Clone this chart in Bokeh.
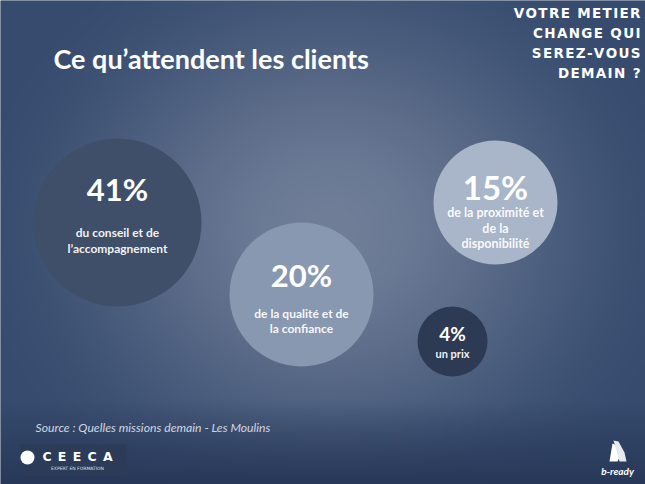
import numpy as np
from bokeh.plotting import figure
from bokeh.models import Range1d
from bokeh.core.properties import value
from bokeh.embed import file_html
from bokeh.resources import INLINE

# ---- data ----
title = "Ce qu’attendent les clients"
tagline = ["VOTRE METIER", "CHANGE QUI", "SEREZ-VOUS", "DEMAIN ?"]
values = [41, 20, 15, 4]
descriptions = [
    ["du conseil et de", "l’accompagnement"],
    ["de la qualité et de", "la confiance"],
    ["de la proximité et", "de la", "disponibilité"],
    ["un prix"],
]
source = "Source : Quelles missions demain - Les Moulins"

# ---- layout (screen pixels, y downwards) ----
W, H = 645, 484
cx = [117, 301, 495, 452]
cy = [222, 294, 202, 341]
rad = [84, 72, 62, 35]
fills = ["#3f4f69", "#8898b1", "#a9b5c9", "#2c3a53"]
pct_y = [188, 274, 186, 333]
pct_size = ["31px", "31px", "33px", "19px"]
desc_y0 = [232, 313, 212, 353]
desc_dy = [16, 15, 15.5, 0]
desc_size = ["12px", "12px", "12.5px", "11px"]

p = figure(width=W, height=H, x_range=Range1d(0, W), y_range=Range1d(H, 0),
           output_backend="svg", toolbar_location=None, min_border=0)
p.axis.visible = False
p.grid.visible = False
p.outline_line_color = None
p.background_fill_color = "#3c5072"
p.border_fill_color = "#3c5072"

# ---- background gradient ----
gw, gh = 323, 242
xs = (np.arange(gw) + 0.5) * W / gw
ys = (np.arange(gh) + 0.5) * H / gh
X, Y = np.meshgrid(xs, ys)
t = np.sqrt(((X - 330) / 380) ** 2 + ((Y - 230) / 330) ** 2)
t = np.clip(t, 0, 1)
t = t * t * (3 - 2 * t)
c0 = np.array([112, 126, 152])
c1 = np.array([54, 75, 110])
img = c0[None, None, :] * (1 - t[..., None]) + c1[None, None, :] * t[..., None]
bot = np.clip((Y - 400) / 85, 0, 1)[..., None]
img = img * (1 - bot) + np.array([40, 56, 88])[None, None, :] * bot
img = img.astype(np.uint32)
rgba = (255 << 24) | (img[..., 2] << 16) | (img[..., 1] << 8) | img[..., 0]
rgba = rgba.astype(np.uint32)
p.image_rgba(image=[rgba], x=0, y=0, dw=W, dh=H)

# ---- circles ----
p.circle(x=cx, y=cy, radius=rad, fill_color=fills, line_color=None)

# ---- text ----
font = value("Lato")
p.text(x=[53], y=[58], text=[title], text_color="white", text_font=font,
       text_font_size="27px", text_font_style="bold", text_baseline="middle")

hs = "\u200a"
p.text(x=[640] * 4, y=[12, 32, 52, 72], text=[hs.join(s) for s in tagline],
       text_color="white", text_font=value("DejaVu Sans"),
       text_font_size="13.5px", text_font_style="bold", text_align="right",
       text_baseline="middle")

for i, v in enumerate(values):
    p.text(x=[cx[i]], y=[pct_y[i]], text=[f"{v}%"], text_color="white",
           text_font=font, text_font_size=pct_size[i], text_font_style="bold",
           text_align="center", text_baseline="middle")
    lines = descriptions[i]
    p.text(x=[cx[i]] * len(lines),
           y=[desc_y0[i] + k * desc_dy[i] for k in range(len(lines))],
           text=lines, text_color="white", text_alpha=0.95, text_font=font,
           text_font_size=desc_size[i], text_font_style="bold",
           text_align="center", text_baseline="middle")

p.text(x=[35], y=[427], text=[source], text_color="#d0d7e2", text_font=font,
       text_font_size="12.2px", text_font_style="italic", text_baseline="middle")

# ---- CEECA logo ----
p.quad(left=[20], right=[126], top=[444], bottom=[476], fill_color="#2b3b58",
       line_color=None)
p.circle(x=[27], y=[457], radius=7, fill_color="white", line_color=None)
p.text(x=[77], y=[456], text=["\u2002".join("CEECA")], text_color="white",
       text_font=value("DejaVu Sans"), text_font_size="12.5px",
       text_font_style="bold", text_align="center", text_baseline="middle")
p.text(x=[77], y=[468], text=["EXPERT EN FORMATION"], text_color="#dfe4ec",
       text_font=value("DejaVu Sans"), text_font_size="4.5px",
       text_align="center", text_baseline="middle")

# ---- b-ready logo ----
p.patch(x=[609, 612, 616, 620, 617, 609], y=[461, 443, 445, 455, 461, 461],
        fill_color="white", line_color=None)
p.patch(x=[613, 618, 624, 626, 619], y=[440, 441, 452, 461, 461],
        fill_color="#e6eaf0", line_color=None)
p.text(x=[617], y=[470], text=["b-ready"], text_color="white", text_font=font,
       text_font_size="10px", text_font_style="bold italic",
       text_align="center", text_baseline="middle")

open("out.html", "w").write(file_html(p, INLINE))
